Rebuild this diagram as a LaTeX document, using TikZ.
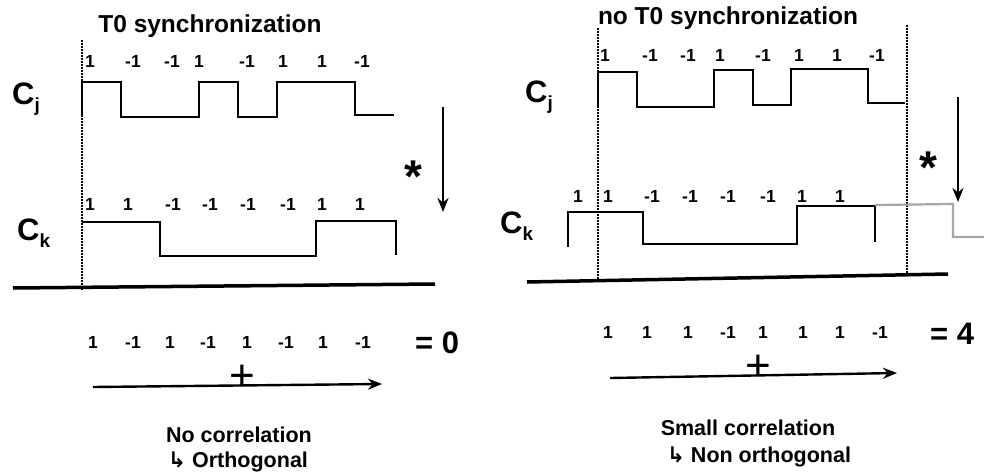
\documentclass[tikz,border=0pt]{standalone}
\usepackage{fontspec}
\setmainfont{Liberation Sans}
\newfontfamily\symfont{DejaVu Sans}
\usepackage{tikz}
\usetikzlibrary{arrows.meta, positioning}

\newcommand{\chipname}[1]{C\raisebox{-7pt}{\fontsize{19}{19}\selectfont #1}}

\begin{document}
\begin{tikzpicture}[x=1pt, y=-1pt, >={Stealth[length=14pt, width=11pt]},
    chip/.style={font=\fontsize{17.5}{17.5}\selectfont\bfseries, anchor=base, inner sep=0pt},
    codename/.style={font=\fontsize{31}{31}\selectfont\bfseries, anchor=base west, inner sep=0pt},
    title/.style={font=\fontsize{24.5}{24.5}\selectfont\bfseries, anchor=base, inner sep=0pt},
    note/.style={font=\fontsize{21.5}{21.5}\selectfont\bfseries, anchor=base, inner sep=0pt},
    result/.style={font=\fontsize{31}{31}\selectfont\bfseries, anchor=base west, inner sep=0pt},
    plussign/.style={font=\fontsize{44}{44}\selectfont, anchor=base, inner sep=0pt},
    starsign/.style={font=\fontsize{46}{46}\selectfont\bfseries, anchor=base, inner sep=0pt},
    wave/.style={line width=2.2pt, line join=miter},
    syncline/.style={line width=1.8pt, dash pattern=on 1.6pt off 1.4pt},
    groundline/.style={line width=3.5pt},
    sumline/.style={line width=2.4pt, ->}]

    \useasboundingbox (0,0) rectangle (984,473);

    % =================================================================
    % 1. LEFT: T0 SYNCHRONIZATION
    % =================================================================
    \node[title] (titleL) at (210,33) {T0 synchronization};
    \node[codename] (cjL) at (12,105) {\chipname{j}};
    \node[codename] (ckL) at (17,240) {\chipname{k}};

    \draw[syncline] (82,40) -- (82,290);
    \draw[wave] (82,117) -- (82,82) -- (121,82) -- (121,117) -- (199,117) -- (199,82)
        -- (238,82) -- (238,117) -- (277,117) -- (277,82) -- (355,82) -- (355,115) -- (394,115);
    \draw[wave] (82,222) -- (160,222) -- (160,256) -- (316,256) -- (316,221)
        -- (396,221) -- (396,255);
    \draw[groundline] (13,288) -- (435,284);

    \foreach \x/\v [count=\i] in {90/1,133/-1,172/-1,199/1,247/-1,283/1,322/1,362/-1}
        \node[chip] (cjL-\i) at (\x,68) {\v};
    \foreach \x/\v [count=\i] in {90/1,128/1,173/-1,210/-1,248/-1,288/-1,322/1,360/1}
        \node[chip] (ckL-\i) at (\x,210) {\v};

    % product and sum
    \coordinate (mulL-top) at (443,107);
    \coordinate (mulL-end) at (443,212);
    \draw[sumline] (mulL-top) -- (mulL-end);
    \node[starsign] (starL) at (413,193) {*};

    \foreach \x/\v [count=\i] in {93/1,133/-1,170/1,208/-1,247/1,286/-1,323/1,363/-1}
        \node[chip] (prodL-\i) at (\x,348) {\v};
    \node[result] (sumL) at (415,353) {= 0};
    \coordinate (addL-start) at (93,387);
    \coordinate (addL-end) at (382,384);
    \draw[sumline] (addL-start) -- (addL-end);
    \node[plussign] (plusL) at (242,390) {+};

    \node[note] (noteL1) at (239,442) {No correlation};
    \node[note] (noteL2) at (238,467) {{\symfont ↳} Orthogonal};

    % =================================================================
    % 2. RIGHT: NO T0 SYNCHRONIZATION
    % =================================================================
    \node[title] (titleR) at (728,25) {no T0 synchronization};
    \node[codename] (cjR) at (525,103) {\chipname{j}};
    \node[codename] (ckR) at (500,233) {\chipname{k}};

    \draw[syncline] (598,28) -- (598,282);
    \draw[syncline] (907,25) -- (907,273);
    \draw[wave] (598,107) -- (598,72) -- (637,72) -- (637,107) -- (714,107) -- (714,70)
        -- (753,70) -- (753,105) -- (791,105) -- (791,69) -- (868,69) -- (868,103) -- (905,103);
    \draw[wave] (568,247) -- (568,212) -- (643,212) -- (643,244) -- (797,244) -- (797,206)
        -- (875,206) -- (875,242);
    \draw[wave, gray!70] (875,205) -- (953,204) -- (953,237) -- (984,237);
    \draw[groundline] (527,282) -- (948,274);

    \foreach \x/\v [count=\i] in {605/1,650/-1,688/-1,720/1,763/-1,799/1,837/1,877/-1}
        \node[chip] (cjR-\i) at (\x,62) {\v};
    \foreach \x/\v [count=\i] in {578/1,608/1,652/-1,690/-1,728/-1,768/-1,802/1,840/1}
        \node[chip] (ckR-\i) at (\x,202) {\v};

    % product and sum
    \coordinate (mulR-top) at (958,97);
    \coordinate (mulR-end) at (958,202);
    \draw[sumline] (mulR-top) -- (mulR-end);
    \node[starsign] (starR) at (928,183) {*};

    \foreach \x/\v [count=\i] in {608/1,647/1,688/1,728/-1,763/1,803/1,840/1,880/-1}
        \node[chip] (prodR-\i) at (\x,338) {\v};
    \node[result] (sumR) at (930,344) {= 4};
    \coordinate (addR-start) at (610,378);
    \coordinate (addR-end) at (897,373);
    \draw[sumline] (addR-start) -- (addR-end);
    \node[plussign] (plusR) at (758,380) {+};

    \node[note] (noteR1) at (748,435) {Small correlation};
    \node[note] (noteR2) at (759,462) {{\symfont ↳} Non orthogonal};

\end{tikzpicture}
\end{document}
